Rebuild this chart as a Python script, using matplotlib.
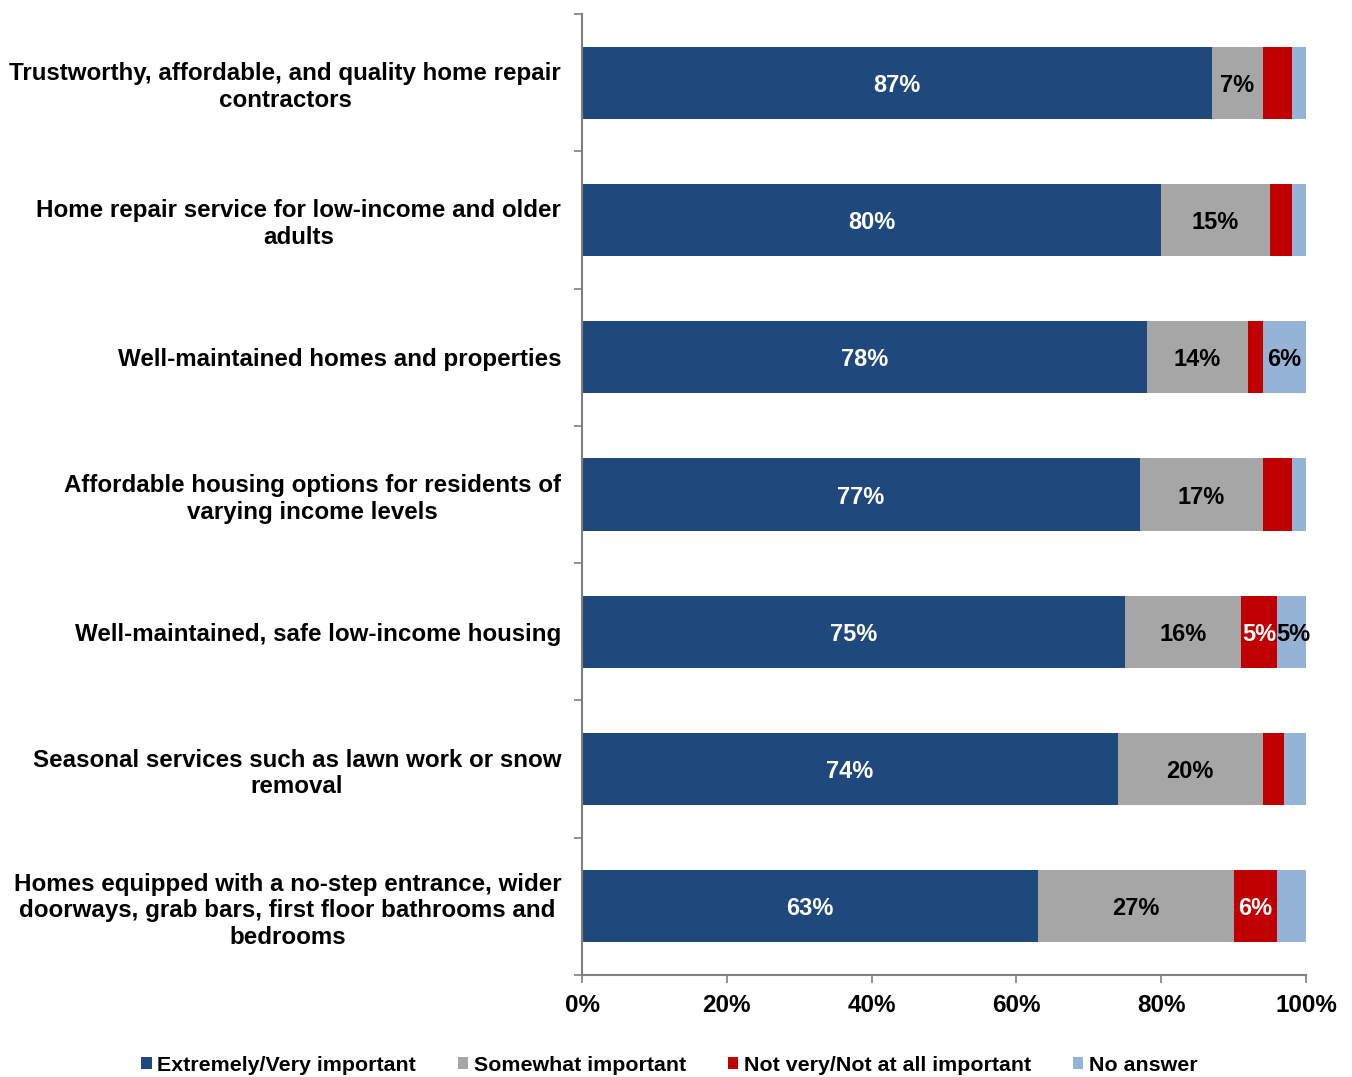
import matplotlib
matplotlib.use("Agg")
import matplotlib.pyplot as plt
from matplotlib.patches import Patch
from matplotlib import font_manager
import numpy as np

categories = [
    "Trustworthy, affordable, and quality home repair\ncontractors",
    "Home repair service for low-income and older\nadults",
    "Well-maintained homes and properties",
    "Affordable housing options for residents of\nvarying income levels",
    "Well-maintained, safe low-income housing",
    "Seasonal services such as lawn work or snow\nremoval",
    "Homes equipped with a no-step entrance, wider\ndoorways, grab bars, first floor bathrooms and\nbedrooms",
]
extremely = [87, 80, 78, 77, 75, 74, 63]
somewhat = [7, 15, 14, 17, 16, 20, 27]
not_important = [4, 3, 2, 4, 5, 3, 6]
no_answer = [2, 2, 6, 2.4, 4.6, 3, 4]

series_names = ["Extremely/Very important", "Somewhat important",
                "Not very/Not at all important", "No answer"]
colors = ["#1F497D", "#A6A6A6", "#C00000", "#95B3D7"]
text_colors = ["white", "black", "white", "black"]
xticks = [0, 20, 40, 60, 80, 100]

names = {f.name for f in font_manager.fontManager.ttflist}
narrow = "Liberation Sans Narrow" if "Liberation Sans Narrow" in names else "Liberation Sans"
plt.rcParams["font.family"] = ["Liberation Sans", "DejaVu Sans"]
plt.rcParams["font.weight"] = "bold"

fig = plt.figure(figsize=(13.52, 10.77), dpi=100)
ax = fig.add_axes([0.4305, 0.0947, 0.5355, 0.8923])

y = np.arange(len(categories))
left = np.zeros(len(categories))
data = [extremely, somewhat, not_important, no_answer]
for vals, col, tcol in zip(data, colors, text_colors):
    vals = np.array(vals, dtype=float)
    ax.barh(y, vals, left=left, height=0.525, color=col, edgecolor="none")
    for yi, l, v in zip(y, left, vals):
        if v >= 4.5:
            ax.text(l + v / 2, yi, f"{v:.0f}%", ha="center", va="center_baseline",
                    color=tcol, fontsize=17, fontweight="bold")
    left += vals

ax.set_ylim(len(categories) - 0.5, -0.5)
ax.set_xlim(0, 100)
ax.set_yticks(y)
ax.set_yticklabels(categories, fontsize=17.4, fontweight="bold", linespacing=1.2)
for lab in ax.get_yticklabels():
    lab.set_multialignment("center")
ax.set_yticks(np.arange(-0.5, len(categories), 1.0), minor=True)
ax.tick_params(axis="y", which="major", length=0, pad=15)
ax.tick_params(axis="y", which="minor", length=6, color="#808080", width=1.2, direction="out")

ax.set_xticks(xticks)
ax.set_xticklabels([f"{t}%" for t in xticks], fontsize=17.5, fontweight="bold", family=narrow)
ax.tick_params(axis="x", length=6, color="#808080", width=1.2, direction="out", pad=8)

for s in ["top", "right"]:
    ax.spines[s].set_visible(False)
for s in ["left", "bottom"]:
    ax.spines[s].set_color("#808080")
    ax.spines[s].set_linewidth(1.5)

handles = [Patch(facecolor=c, edgecolor="none", label=n) for c, n in zip(colors, series_names)]
fig.legend(handles=handles, loc="center", bbox_to_anchor=(0.495, 0.011), ncol=4,
           frameon=False, handlelength=0.5, handleheight=0.5, handletextpad=0.25,
           columnspacing=1.95, prop={"family": narrow, "size": 15.4, "weight": "bold"})

fig.savefig("out.png", dpi=100)
